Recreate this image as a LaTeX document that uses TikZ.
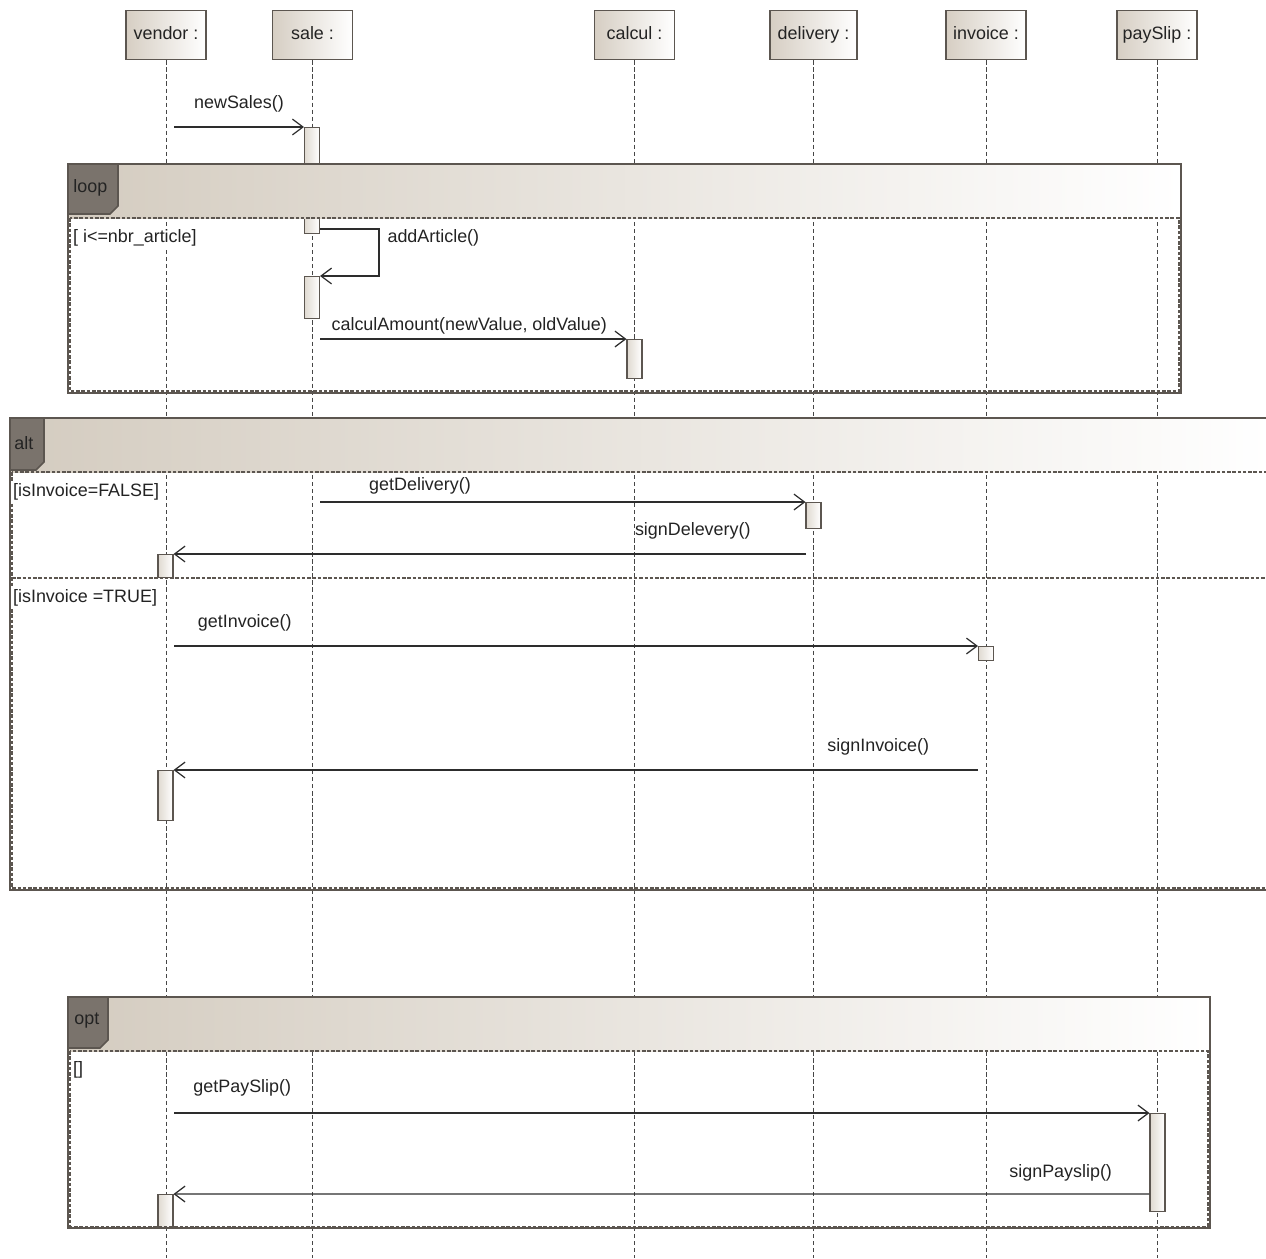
\documentclass[tikz,border=0pt]{standalone}
\usepackage{fontspec}
\setmainfont{Liberation Sans}
\usetikzlibrary{arrows.meta, positioning, shadings}
\definecolor{framegray}{RGB}{92,86,80}
\definecolor{linegray}{RGB}{70,70,70}
\definecolor{msggray}{RGB}{45,45,45}
\definecolor{textgray}{RGB}{35,35,35}
\definecolor{headbeige}{RGB}{214,206,195}
\definecolor{bandbeige}{RGB}{212,204,192}
\definecolor{tagdark}{RGB}{122,115,108}
\definecolor{actbeige}{RGB}{224,218,209}
\newcommand\umlfont{\fontsize{10.2}{12}\selectfont}
\tikzset{
  lifehead/.style={rectangle, draw=framegray, line width=0.8pt, left color=headbeige,
    right color=white, minimum width=1.6cm, minimum height=0.98cm, inner sep=0pt,
    text height=7.6pt, text depth=2.2pt, anchor=north, text=textgray},
  lifeline/.style={draw=linegray, line width=0.5pt, dash pattern=on 2.4pt off 1.6pt},
  actbox/.style={rectangle, draw=framegray, line width=0.6pt, left color=actbeige,
    right color=white, minimum width=0.3cm, minimum height=#1, inner sep=0pt,
    anchor=north},
  msg/.style={-{Straight Barb[length=6pt, width=9pt]}, line width=0.7pt, draw=msggray},
  msglabel/.style={above=#1, inner sep=0pt, text=textgray},
  msglabel/.default=8pt,
  guard/.style={anchor=west, inner sep=1pt, fill=white, text=textgray},
  tagtext/.style={anchor=west, inner sep=0pt, text=textgray},
  frameline/.style={draw=framegray, line width=0.9pt},
  framedash/.style={draw=framegray, line width=0.6pt, dash pattern=on 2pt off 1pt},
}
\begin{document}
\begin{tikzpicture}[x=0.02cm, y=-0.02cm, font=\umlfont]
  \useasboundingbox (0,0) rectangle (1266,1258);

  % Lifeline heads
  \node[lifehead] (vendor) at (166,10) {vendor :};
  \node[lifehead] (sale) at (312.5,10) {sale :};
  \node[lifehead] (calcul) at (634.5,10) {calcul :};
  \node[lifehead, minimum width=1.74cm] (delivery) at (813.5,10) {delivery :};
  \node[lifehead] (invoice) at (986,10) {invoice :};
  \node[lifehead] (payslip) at (1157,10) {paySlip :};
  \coordinate (bottom) at (0,1258);

  % Lifelines
  \foreach \obj in {vendor,sale,calcul,delivery,invoice,payslip}
    \draw[lifeline] (\obj.south) -- (\obj.south |- bottom);

  % Activation boxes
  \node[actbox=2.12cm] (s1) at (312,127) {};
  \node[actbox=0.84cm] (s2) at (312,276) {};
  \node[actbox=0.78cm] (c1) at (634.5,339) {};
  \node[actbox=0.52cm] (d1) at (813.5,502) {};
  \node[actbox=0.46cm] (v1) at (165.5,554) {};
  \node[actbox=0.28cm] (i1) at (986,646) {};
  \node[actbox=1.0cm] (v2) at (165.5,770) {};
  \node[actbox=1.96cm] (p1) at (1157.5,1113) {};
  \node[actbox=0.68cm] (v3) at (165.5,1194) {};

  % loop frame
  \shade[left color=bandbeige, right color=white] (68,164) rectangle (1181,218);
  \draw[frameline] (68,164) rectangle (1181,393);
  \draw[framedash] (70,218) rectangle (1179,391);
  \draw[frameline, fill=tagdark] (68,164) -- (118,164) -- (118,206) -- (110,214)
    -- (68,214) -- cycle;
  \node[tagtext] (looptag) at (73,188) {loop};
  \node[guard] (loopguard) at (71,238) {[ i<=nbr\_article]};

  % alt frame
  \shade[left color=bandbeige, right color=white] (10,418) rectangle (1272,472);
  \draw[frameline] (10,418) rectangle (1272,890);
  \draw[framedash] (12,472) rectangle (1270,888);
  \draw[framedash, line width=1.3pt] (12,578) -- (1270,578);
  \draw[frameline, fill=tagdark] (10,418) -- (44,418) -- (44,462) -- (36,470)
    -- (10,470) -- cycle;
  \node[tagtext] (alttag) at (14,443) {alt};
  \node[guard] (altguard1) at (11,492) {[isInvoice=FALSE]};
  \node[guard] (altguard2) at (11,598) {[isInvoice =TRUE]};

  % opt frame
  \shade[left color=bandbeige, right color=white] (68,997) rectangle (1210,1051);
  \draw[frameline] (68,997) rectangle (1210,1228);
  \draw[framedash] (70,1051) rectangle (1208,1226);
  \draw[frameline, fill=tagdark] (68,997) -- (108,997) -- (108,1040) -- (100,1048)
    -- (68,1048) -- cycle;
  \node[tagtext] (opttag) at (74,1021) {opt};
  \node[guard] (optguard) at (71,1070) {[]};

  % Messages
  \coordinate (ns) at (174,127);
  \draw[msg] (ns) -- (s1.north west) node[msglabel, midway] {newSales()};
  \draw[msg] ([yshift=0.1cm]s1.south east) -- ++(59,0)
    node[anchor=north west, xshift=4.5pt, inner sep=0pt, text=textgray] {addArticle()}
    |- (s2.north east);
  \coordinate (ca) at (320,339);
  \draw[msg] (ca) -- (c1.north west) node[msglabel=2.5pt, pos=0.487]
    {calculAmount(newValue, oldValue)};
  \coordinate (gd) at (320,502);
  \draw[msg] (gd) -- (d1.north west) node[msglabel=4pt, pos=0.206] {getDelivery()};
  \coordinate (sd) at (806,554);
  \draw[msg] (sd) -- (v1.north east) node[msglabel, pos=0.179] {signDelevery()};
  \coordinate (gi) at (174,646);
  \draw[msg] (gi) -- (i1.north west) node[msglabel, pos=0.088] {getInvoice()};
  \coordinate (si) at (978,770);
  \draw[msg] (si) -- (v2.north east) node[msglabel, pos=0.124] {signInvoice()};
  \coordinate (gp) at (174,1113);
  \draw[msg] (gp) -- (p1.north west) node[msglabel=9pt, pos=0.07] {getPaySlip()};
  \coordinate (sp) at ([yshift=-1.62cm]p1.north west);
  \draw[msg] (sp) -- (v3.north east) node[msglabel=7pt, pos=0.091] {signPayslip()};
\end{tikzpicture}
\end{document}
